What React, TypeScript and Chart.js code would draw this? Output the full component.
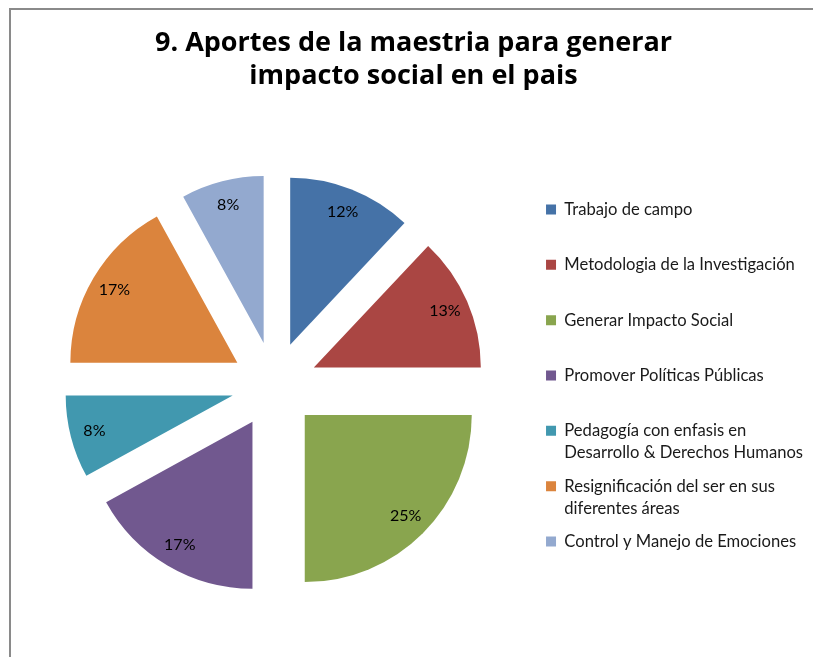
import React, { useEffect, useRef } from 'react';
import { Chart, registerables, DoughnutController } from 'chart.js';

Chart.register(...registerables);

const categories = [
  'Trabajo de campo',
  'Metodologia de la Investigación',
  'Generar Impacto Social',
  'Promover Políticas Públicas',
  'Pedagogía con enfasis en\nDesarrollo & Derechos Humanos',
  'Resignificación del ser en sus\ndiferentes áreas',
  'Control y Manejo de Emociones',
];
const values = [12, 13, 25, 17, 8, 17, 8];
const colors = ['#4572A7', '#AA4643', '#89A54E', '#71588F', '#4198AF', '#DB843D', '#93A9CF'];
const titleLines = ['9. Aportes de la maestria para generar', 'impacto social en el pais'];

const FONT = 'Lato';
const TITLE_FONT = '"Open Sans"';

// Moves each slice outward along its bisector (Excel-style exploded pie).
const explodePlugin = {
  id: 'explode',
  afterDatasetsUpdate(chart: any, _args: any, opts: any) {
    const meta = chart.getDatasetMeta(0);
    meta.data.forEach((arc: any) => {
      const mid = (arc.startAngle + arc.endAngle) / 2;
      arc.x += Math.cos(mid) * opts.distance;
      arc.y += Math.sin(mid) * opts.distance;
    });
  },
};

const sliceLabelPlugin = {
  id: 'sliceLabels',
  afterDatasetsDraw(chart: any, _args: any, opts: any) {
    const ctx = chart.ctx;
    const meta = chart.getDatasetMeta(0);
    const data: number[] = chart.data.datasets[0].data;
    const total = data.reduce((a, b) => a + b, 0);
    ctx.save();
    ctx.font = opts.font;
    ctx.fillStyle = opts.color;
    ctx.textAlign = 'center';
    ctx.textBaseline = 'middle';
    meta.data.forEach((arc: any, i: number) => {
      const { x, y, startAngle, endAngle, outerRadius } = arc.getProps(
        ['x', 'y', 'startAngle', 'endAngle', 'outerRadius'],
        true
      );
      const mid = (startAngle + endAngle) / 2;
      const r = outerRadius * opts.position;
      ctx.fillText(Math.round((data[i] / total) * 100) + '%', x + Math.cos(mid) * r, y + Math.sin(mid) * r);
    });
    ctx.restore();
  },
};

export default function App() {
  const ref = useRef<HTMLCanvasElement>(null);

  useEffect(() => {
    const baseGen = (DoughnutController as any).overrides.plugins.legend.labels.generateLabels;
    const chart = new Chart(ref.current as HTMLCanvasElement, {
      type: 'pie',
      data: {
        labels: categories,
        datasets: [
          {
            data: values,
            backgroundColor: colors,
            borderWidth: 0,
            hoverOffset: 0,
            radius: 167,
          } as any,
        ],
      },
      options: {
        responsive: false,
        animation: false,
        events: [],
        layout: { padding: { left: 14, right: 0, top: 0, bottom: 0 } },
        plugins: {
          title: {
            display: true,
            text: titleLines,
            color: '#000',
            font: { family: TITLE_FONT, size: 27, weight: 'bold', lineHeight: 32.4 / 27 },
            padding: { top: 27.6, bottom: 20 },
          },
          legend: {
            position: 'right',
            align: 'start',
            title: { display: true, text: '', padding: { top: 179.9, bottom: 0 }, font: { size: 10, lineHeight: 1 } },
            labels: {
              boxWidth: 10,
              boxHeight: 10,
              padding: 11.33,
              color: '#1a1a1a',
              font: { family: FONT, size: 16.6, lineHeight: 22 / 16.6 },
              generateLabels: (c: any) =>
                baseGen(c).map((item: any) => {
                  const lines = String(item.text).split('\n');
                  while (lines.length < 2) lines.push('');
                  return { ...item, text: lines };
                }),
            },
          },
          tooltip: { enabled: false },
          explode: { distance: 43 },
          sliceLabels: { position: 0.855, color: '#000', font: `16px ${FONT}` },
        } as any,
      },
      plugins: [explodePlugin, sliceLabelPlugin],
    });
    return () => chart.destroy();
  }, []);

  return (
    <div
      style={{
        position: 'absolute',
        left: 0,
        top: 0,
        width: 813,
        height: 657,
        overflow: 'hidden',
        background: '#fff',
      }}
    >
      <div
        style={{
          position: 'absolute',
          left: 9,
          top: 8,
          right: 0,
          bottom: 0,
          borderTop: '2px solid #8a8a8a',
          borderLeft: '2px solid #8a8a8a',
        }}
      />
      <canvas
        ref={ref}
        width={813}
        height={657}
        style={{ position: 'absolute', left: 0, top: 0, width: 813, height: 657 }}
      />
    </div>
  );
}
